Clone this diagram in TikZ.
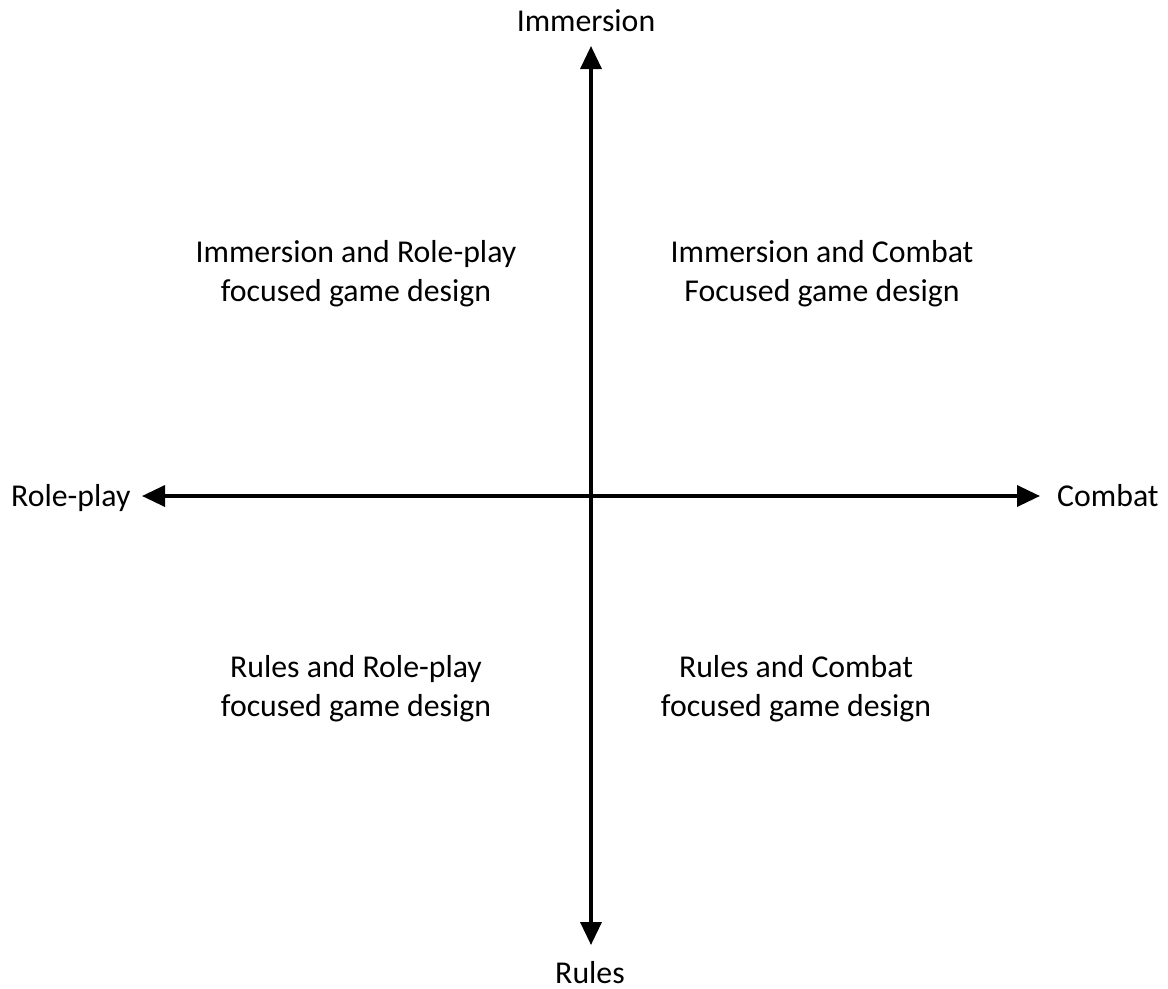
\documentclass[tikz,border=0pt]{standalone}
\usepackage{fontspec}
\setmainfont{Carlito}
\usetikzlibrary{arrows.meta}
\begin{document}
\begin{tikzpicture}[x=1bp,y=-1bp,
  axis/.style={line width=3.5bp,{Triangle[length=23bp,width=21bp]}-{Triangle[length=23bp,width=21bp]}},
  lbl/.style={font=\fontsize{31.8bp}{39bp}\selectfont,inner sep=0pt},
  quad/.style={lbl,align=center}]
\useasboundingbox (0,0) rectangle (1168,989);
% axis end points
\coordinate (top) at (591,46);
\coordinate (bottom) at (591,945);
\coordinate (left) at (142,496);
\coordinate (right) at (1040,496);
% axes
\draw[axis] (left) -- (right);
\draw[axis] (bottom) -- (top);
% axis labels
\node[lbl,anchor=base] (immersion) at (586,31) {Immersion};
\node[lbl,anchor=base] (rules) at (590,983) {Rules};
\node[lbl,anchor=base west] (roleplay) at (11,506) {Role-play};
\node[lbl,anchor=base west] (combat) at (1057,506) {Combat};
% quadrant labels
\node[quad] (ir) at (356,274) {Immersion and Role-play\\focused game design};
\node[quad] (ic) at (822,274) {Immersion and Combat\\Focused game design};
\node[quad] (rr) at (356,689) {Rules and Role-play\\focused game design};
\node[quad] (rc) at (796,689) {Rules and Combat\\focused game design};
\end{tikzpicture}
\end{document}
